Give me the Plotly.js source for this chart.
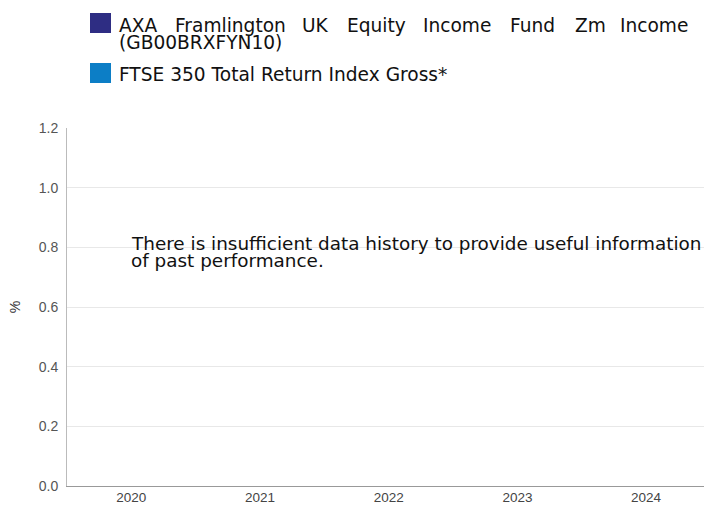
<!DOCTYPE html>
<html>
<head>
<meta charset="utf-8">
<script src="https://cdn.plot.ly/plotly-3.0.1.min.js"></script>
<style>html,body{margin:0;padding:0;background:#fff;}#chart{width:704px;height:505px;}</style>
</head>
<body>
<div id="chart"></div>
<script>
// Data
const years = ['2020', '2021', '2022', '2023', '2024'];
const seriesNames = ['AXA Framlington UK Equity Income Fund Zm Income (GB00BRXFYN10)', 'FTSE 350 Total Return Index Gross*'];
const seriesColors = ['#2e2d83', '#0c7ec6'];
const fundValues = [null, null, null, null, null];
const indexValues = [null, null, null, null, null];
const yTicks = [0, 0.2, 0.4, 0.6, 0.8, 1.0, 1.2];
const messageLines = ['There is insufficient data history to provide useful information', 'of past performance.'];

const traces = [
  {type: 'bar', name: seriesNames[0], x: years, y: fundValues, marker: {color: seriesColors[0]}, showlegend: false},
  {type: 'bar', name: seriesNames[1], x: years, y: indexValues, marker: {color: seriesColors[1]}, showlegend: false}
];

// pixel -> paper helpers (plot area: x 67..704, y 128..486)
const px = x => (x - 67) / 637;
const py = y => (486 - y) / 358;

const FONT = 'DejaVu Sans, Verdana, sans-serif';
const legendFont = {family: FONT, size: 18.6, color: '#111'};
const shapes = [];
const annotations = [];
const squareTops = [13, 63];
for (let i = 0; i < seriesNames.length; i++) {
  shapes.push({type: 'rect', xref: 'paper', yref: 'paper',
    x0: px(90), x1: px(111), y0: py(squareTops[i]), y1: py(squareTops[i] + 20),
    fillcolor: seriesColors[i], line: {width: 0}});
}
// first legend entry: justified first line, wrapped second line
const nameWords = seriesNames[0].split(' ');
const line1Words = nameWords.slice(0, 8);
const line1Starts = [117, 173, 300, 345, 421, 508, 573, 622];
line1Words.forEach((w, k) => {
  const last = k === line1Words.length - 1;
  annotations.push({xref: 'paper', yref: 'paper', x: last ? px(690) : px(line1Starts[k]), y: py(25),
    xanchor: last ? 'right' : 'left', yanchor: 'middle', showarrow: false, text: w, font: legendFont});
});
annotations.push({xref: 'paper', yref: 'paper', x: px(117), y: py(42),
  xanchor: 'left', yanchor: 'middle', showarrow: false, text: nameWords[8], font: legendFont});
annotations.push({xref: 'paper', yref: 'paper', x: px(117), y: py(74.5),
  xanchor: 'left', yanchor: 'middle', showarrow: false, text: seriesNames[1], font: legendFont});

const msgFont = {family: FONT, size: 18.4, color: '#111'};
annotations.push({xref: 'paper', yref: 'paper', x: px(129), y: py(243),
  xanchor: 'left', yanchor: 'middle', showarrow: false, text: messageLines[0], font: msgFont});
annotations.push({xref: 'paper', yref: 'paper', x: px(129), y: py(260),
  xanchor: 'left', yanchor: 'middle', showarrow: false, text: messageLines[1], font: msgFont});

const layout = {
  width: 704, height: 505,
  margin: {l: 67, r: 0, t: 128, b: 19, pad: 0},
  paper_bgcolor: '#fff', plot_bgcolor: '#fff',
  showlegend: false,
  xaxis: {type: 'category', categoryarray: years, range: [-0.5, 4.45], showgrid: false,
    showline: true, linecolor: '#999', linewidth: 1, ticks: '', zeroline: false, ticklabelstandoff: -1,
    tickfont: {family: 'Liberation Sans, Arial, sans-serif', size: 13.5, color: '#444'}, fixedrange: true},
  yaxis: {range: [0, 1.2], tickvals: yTicks, ticktext: yTicks.map(v => v.toFixed(1)),
    showgrid: true, gridcolor: '#e8e8e8', gridwidth: 1, zeroline: false,
    showline: true, linecolor: '#bbb', linewidth: 1, ticks: '', ticklabelstandoff: 5,
    tickfont: {family: 'Liberation Sans, Arial, sans-serif', size: 14, color: '#555'},
    title: {text: '%', standoff: 14, font: {family: 'Liberation Sans, Arial, sans-serif', size: 14, color: '#333'}},
    automargin: false, fixedrange: true},
  shapes: shapes,
  annotations: annotations
};
Plotly.newPlot('chart', traces, layout, {displayModeBar: false, staticPlot: true});
</script>
</body>
</html>
